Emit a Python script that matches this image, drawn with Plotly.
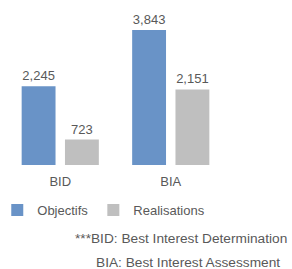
import plotly.graph_objects as go

categories = ["BID", "BIA"]
objectifs = [2245, 3843]
realisations = [723, 2151]
series_names = ["Objectifs", "Realisations"]
footnotes = ["***BID: Best Interest Determination", "BIA: Best Interest Assessment"]

FONT = "Liberation Sans, Arial, sans-serif"
TXT = "#595959"

fig = go.Figure()
fig.add_trace(go.Bar(x=categories, y=objectifs, name=series_names[0],
                     marker=dict(color="#6993C7", line=dict(width=0)),
                     text=[f"{v:,}" for v in objectifs], textposition="outside",
                     textfont=dict(size=13, color=TXT), cliponaxis=False))
fig.add_trace(go.Bar(x=categories, y=realisations, name=series_names[1],
                     marker=dict(color="#BFBFBF", line=dict(width=0)),
                     text=[f"{v:,}" for v in realisations], textposition="outside",
                     textfont=dict(size=13, color=TXT), cliponaxis=False))

fig.update_layout(
    width=292, height=269,
    margin=dict(l=4.5, r=65.5, t=7, b=104, autoexpand=False),
    paper_bgcolor="white", plot_bgcolor="white",
    font=dict(family=FONT, size=13, color=TXT),
    barmode="group", bargap=0.216, bargroupgap=0.218,
    showlegend=True,
    legend=dict(orientation="h", x=-0.035, y=-0.19, xanchor="left", yanchor="top",
                font=dict(size=13, color=TXT), itemwidth=30, traceorder="normal",
                tracegroupgap=0, bgcolor="rgba(0,0,0,0)"),
    xaxis=dict(showline=False, showgrid=False, ticks="outside", ticklen=4,
               tickcolor="rgba(0,0,0,0)", tickfont=dict(size=13, color=TXT)),
    yaxis=dict(range=[0, 4500], visible=False),
)
fig.add_annotation(text=footnotes[0], xref="paper", yref="paper", x=1.285, y=-0.465,
                   xanchor="right", yanchor="middle", showarrow=False,
                   font=dict(size=13.7, color=TXT))
fig.add_annotation(text=footnotes[1], xref="paper", yref="paper", x=1.255, y=-0.62,
                   xanchor="right", yanchor="middle", showarrow=False,
                   font=dict(size=13.7, color=TXT))
fig.write_html("out.html", config={"displayModeBar": False},
               post_script="document.body.style.margin='0';document.body.style.padding='0';")
